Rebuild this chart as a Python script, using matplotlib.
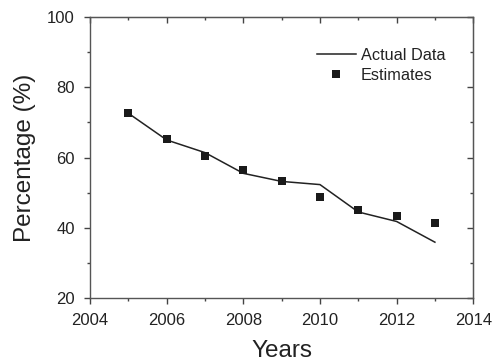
import matplotlib
matplotlib.use("Agg")
import matplotlib.pyplot as plt
from matplotlib.ticker import MultipleLocator

plt.rcParams['font.family'] = ['Liberation Sans', 'DejaVu Sans']

years = [2005, 2006, 2007, 2008, 2009, 2010, 2011, 2012, 2013]
actual = [72.6, 65.0, 61.4, 55.5, 53.2, 52.3, 44.5, 41.8, 35.9]
estimates = [72.7, 65.2, 60.4, 56.5, 53.4, 48.9, 45.2, 43.3, 41.3]

fig = plt.figure(figsize=(4.95, 3.63), dpi=100)
ax = fig.add_axes([0.182, 0.179, 0.774, 0.774])

ax.plot(years, actual, color='#222222', lw=1.1, label='Actual Data')
ax.plot(years, estimates, 's', color='#1a1a1a', ms=5.5, mew=0, label='Estimates')

ax.set_xlim(2004, 2014)
ax.set_ylim(20, 100)
ax.xaxis.set_major_locator(MultipleLocator(2))
ax.xaxis.set_minor_locator(MultipleLocator(1))
ax.yaxis.set_major_locator(MultipleLocator(20))
ax.yaxis.set_minor_locator(MultipleLocator(10))

tick_col = '#444444'
for s in ax.spines.values():
    s.set_color('#555555')
    s.set_linewidth(1.0)
ax.tick_params(which='major', direction='out', length=4, width=1, color=tick_col,
               labelsize=12, labelcolor='#222222')
ax.tick_params(axis='y', which='major', pad=7)
ax.tick_params(axis='x', which='major', pad=6.5)
ax.tick_params(which='minor', direction='out', length=2.5, width=1, color=tick_col)

# mirrored ticks on top and right, pointing into the frame
top = ax.secondary_xaxis('top')
top.xaxis.set_major_locator(MultipleLocator(2))
top.xaxis.set_minor_locator(MultipleLocator(1))
top.tick_params(which='major', direction='in', length=4, width=1, color=tick_col, labeltop=False)
top.tick_params(which='minor', direction='in', length=2.5, width=1, color=tick_col)
right = ax.secondary_yaxis('right')
right.yaxis.set_major_locator(MultipleLocator(20))
right.yaxis.set_minor_locator(MultipleLocator(10))
right.tick_params(which='major', direction='in', length=4, width=1, color=tick_col, labelright=False)
right.tick_params(which='minor', direction='in', length=2.5, width=1, color=tick_col)
for sec in (top, right):
    for s in sec.spines.values():
        s.set_color('#555555')

ax.set_xlabel('Years', fontsize=17.5, color='#222222', labelpad=9)
ax.set_ylabel('Percentage (%)', fontsize=17.5, color='#222222', labelpad=8)

ax.legend(loc='upper right', bbox_to_anchor=(0.948, 0.92), frameon=False, fontsize=11.7,
          handlelength=2.4, handletextpad=0.3, labelspacing=0.3, borderpad=0,
          labelcolor='#222222')

fig.savefig('out.png', dpi=100)
